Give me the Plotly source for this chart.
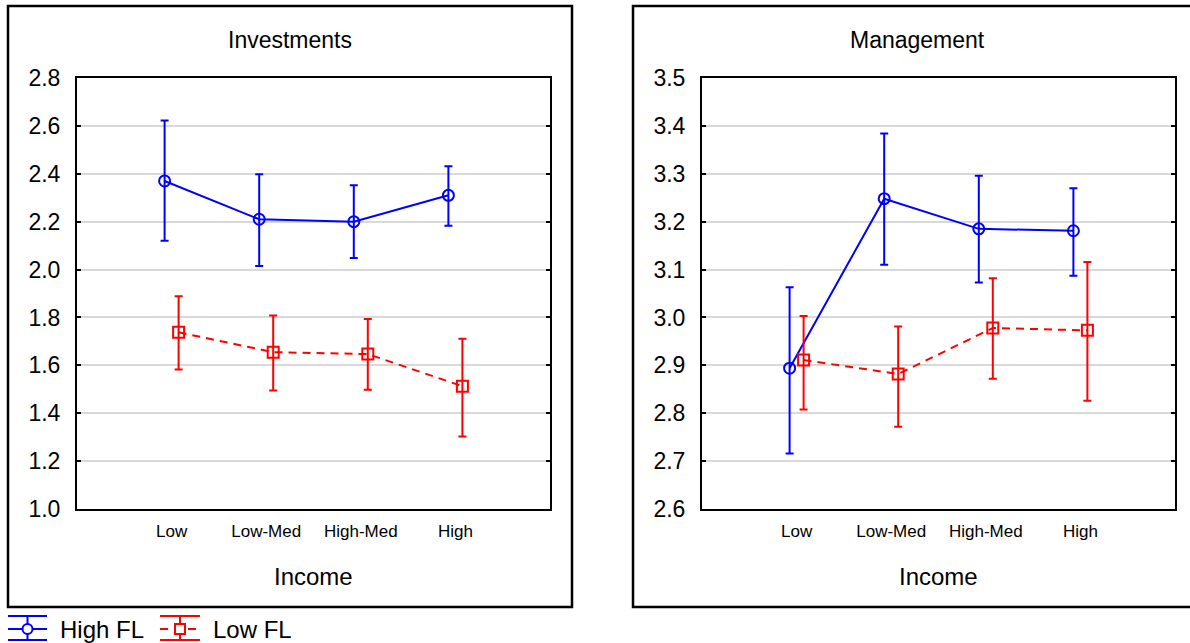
import numpy as np
import plotly.graph_objects as go

# --- data -------------------------------------------------------------
categories = ["Low", "Low-Med", "High-Med", "High"]

# Investments: means with lower / upper confidence bounds
inv_high_mean = [2.37, 2.21, 2.20, 2.31]
inv_high_lo = [2.12, 2.015, 2.048, 2.183]
inv_high_hi = [2.623, 2.398, 2.352, 2.431]
inv_low_mean = [1.738, 1.655, 1.647, 1.513]
inv_low_lo = [1.583, 1.495, 1.498, 1.303]
inv_low_hi = [1.888, 1.808, 1.793, 1.711]

# Management: means with lower / upper confidence bounds
man_high_mean = [2.894, 3.248, 3.185, 3.181]
man_high_lo = [2.716, 3.110, 3.073, 3.087]
man_high_hi = [3.063, 3.384, 3.296, 3.270]
man_low_mean = [2.911, 2.882, 2.978, 2.973]
man_low_lo = [2.808, 2.772, 2.872, 2.826]
man_low_hi = [3.003, 2.981, 3.082, 3.116]

inv_ticks = [1.0, 1.2, 1.4, 1.6, 1.8, 2.0, 2.2, 2.4, 2.6, 2.8]
man_ticks = [2.6, 2.7, 2.8, 2.9, 3.0, 3.1, 3.2, 3.3, 3.4, 3.5]

W, H = 1190, 643
BLUE = "#0000ff"
RED = "#ff0000"
FONT = "Liberation Sans, Arial, sans-serif"
DASH = "8px,6px"

pos = np.arange(len(categories))
shift = 0.074


def px(x):
    return x / W


def py(y):
    return 1 - y / H


def series(xs, mean, lo, hi, color, symbol, dash, xa, ya):
    mean = np.array(mean)
    return go.Scatter(
        x=xs, y=mean, xaxis=xa, yaxis=ya, mode="lines+markers",
        line=dict(color=color, width=2, dash=dash),
        marker=dict(symbol=symbol, size=11, color=color,
                    line=dict(color=color, width=2)),
        error_y=dict(type="data", symmetric=False,
                     array=np.array(hi) - mean, arrayminus=mean - np.array(lo),
                     color=color, thickness=2, width=4),
        showlegend=False, hoverinfo="skip",
    )


fig = go.Figure()
fig.add_trace(series(pos - shift, inv_high_mean, inv_high_lo, inv_high_hi, BLUE, "circle-open", "solid", "x", "y"))
fig.add_trace(series(pos + shift, inv_low_mean, inv_low_lo, inv_low_hi, RED, "square-open", DASH, "x", "y"))
fig.add_trace(series(pos - shift, man_high_mean, man_high_lo, man_high_hi, BLUE, "circle-open", "solid", "x2", "y2"))
fig.add_trace(series(pos + shift, man_low_mean, man_low_lo, man_low_hi, RED, "square-open", DASH, "x2", "y2"))

ydom = [py(509), py(78)]
xcommon = dict(range=[-1, 4], tickvals=list(pos), ticktext=categories, showgrid=False,
               zeroline=False, showline=True, linecolor="black", linewidth=2, mirror=True,
               ticks="", tickfont=dict(family=FONT, size=17, color="black"),
               ticklabelstandoff=6, fixedrange=True, automargin=False)
ycommon = dict(showgrid=True, gridcolor="#d9d9d9", gridwidth=2, zeroline=False,
               showline=True, linecolor="black", linewidth=2, mirror="ticks",
               ticks="inside", ticklen=4, tickwidth=1.5, tickcolor="black",
               tickformat=".1f", tickfont=dict(family=FONT, size=23, color="black"),
               ticklabelstandoff=10, fixedrange=True, automargin=False)

fig.update_layout(
    width=W, height=H, margin=dict(l=0, r=0, t=0, b=0, pad=0, autoexpand=False),
    paper_bgcolor="white", plot_bgcolor="white",
    xaxis=dict(domain=[px(77), px(550)], anchor="y", **xcommon),
    yaxis=dict(domain=ydom, anchor="x", range=[1.0, 2.8], tickvals=inv_ticks, **ycommon),
    xaxis2=dict(domain=[px(702), px(1175)], anchor="y2", **xcommon),
    yaxis2=dict(domain=ydom, anchor="x2", range=[2.6, 3.5], tickvals=man_ticks, **ycommon),
)

shapes = []
annotations = []

# panel frames
for x0, x1 in [(8, 572), (633, 1201)]:
    shapes.append(dict(type="rect", xref="paper", yref="paper",
                       x0=px(x0), x1=px(x1), y0=py(607), y1=py(6),
                       line=dict(color="black", width=2.5)))

# panel titles and x-axis titles
for text, cx in [("Investments", 290), ("Management", 917)]:
    annotations.append(dict(text=text, x=px(cx), y=py(40), xref="paper", yref="paper",
                            xanchor="center", yanchor="middle",
                            showarrow=False, font=dict(family=FONT, size=23, color="black")))
for cx in [313, 938]:
    annotations.append(dict(text="Income", x=px(cx), y=py(576), xref="paper", yref="paper",
                            xanchor="center", yanchor="middle",
                            showarrow=False, font=dict(family=FONT, size=24, color="black")))

# legend entries with error-bar glyphs
legend_items = [("High FL", BLUE, "circle", "solid", 8, 47),
                ("Low FL", RED, "rect", DASH, 160, 200)]
for label, color, glyph, dash, x0, x1 in legend_items:
    cx = (x0 + x1) / 2
    for yy in (616, 640):
        shapes.append(dict(type="line", xref="paper", yref="paper", x0=px(x0), x1=px(x1),
                           y0=py(yy), y1=py(yy), line=dict(color=color, width=2)))
    shapes.append(dict(type="line", xref="paper", yref="paper", x0=px(x0), x1=px(x1),
                       y0=py(629), y1=py(629), line=dict(color=color, width=2, dash=dash)))
    shapes.append(dict(type="line", xref="paper", yref="paper", x0=px(cx), x1=px(cx),
                       y0=py(616), y1=py(640), line=dict(color=color, width=2)))
    shapes.append(dict(type=glyph, xref="paper", yref="paper", x0=px(cx - 5), x1=px(cx + 5),
                       y0=py(634), y1=py(624), fillcolor="white", line=dict(color=color, width=2)))
    annotations.append(dict(text=label, x=px(x1 + 11), y=py(629), xref="paper", yref="paper",
                            xanchor="left", yanchor="middle", showarrow=False,
                            font=dict(family=FONT, size=24, color="black")))

fig.update_layout(shapes=shapes, annotations=annotations)
fig.write_html("out.html")
